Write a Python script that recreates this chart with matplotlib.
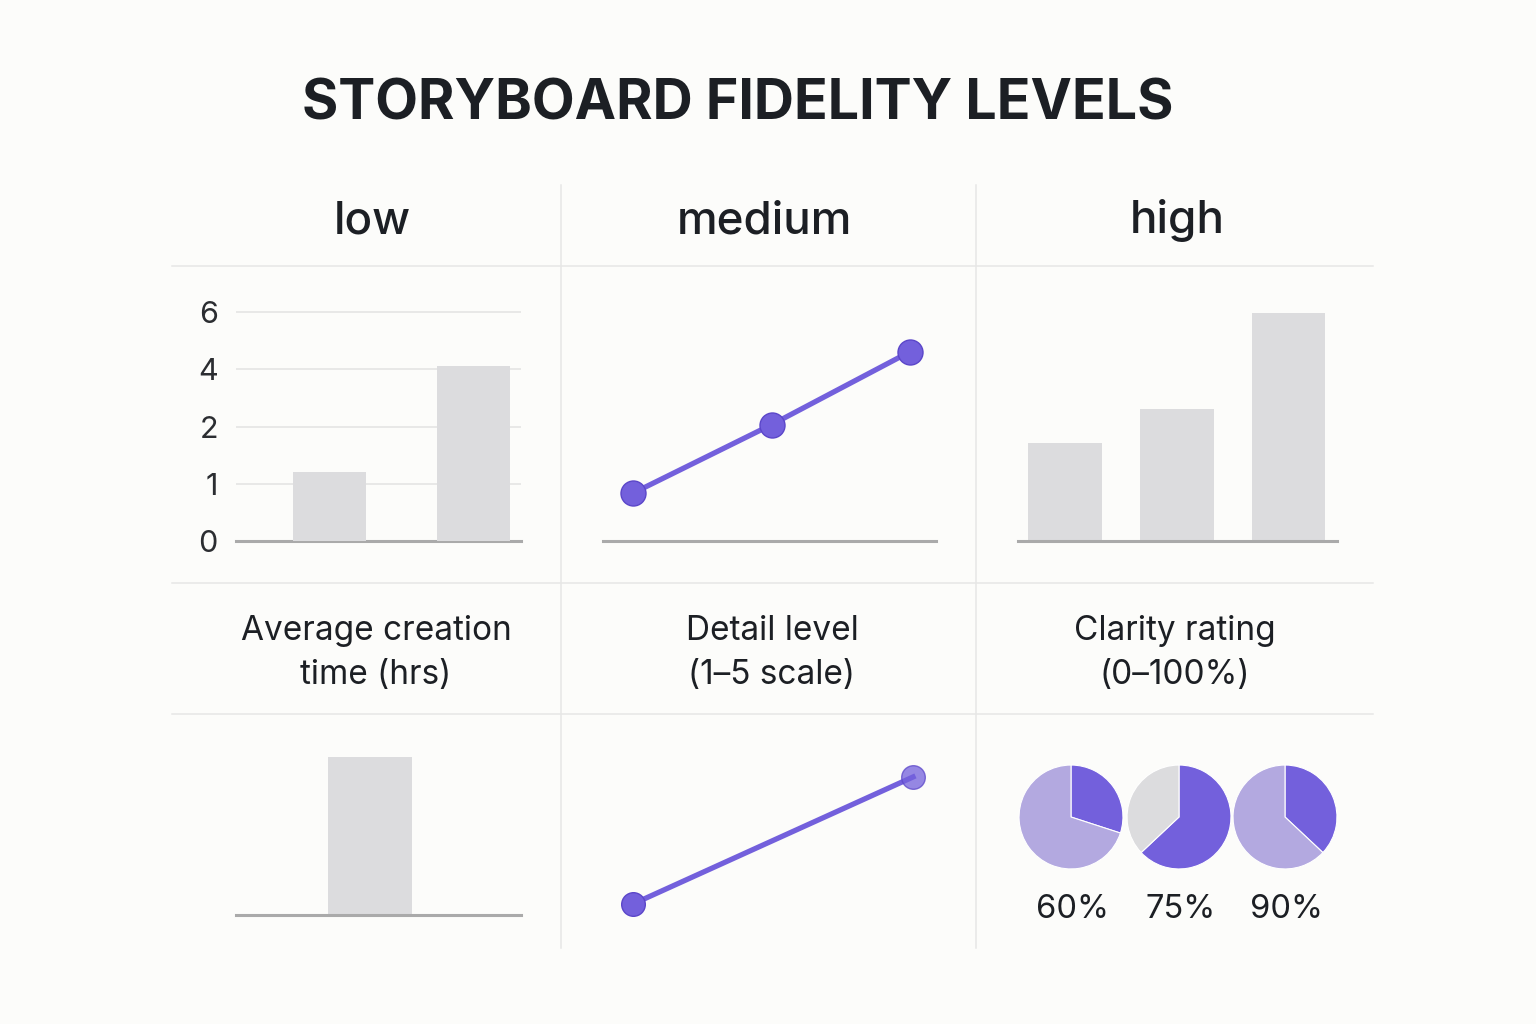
import matplotlib
matplotlib.use('Agg')
import matplotlib.pyplot as plt
import numpy as np

W, H = 1536, 1024
BG = '#fcfcfa'
PURPLE = '#7360dc'
PURPLE_EDGE = '#5b46c9'
LILAC = '#b3a9e0'
GREY_BAR = '#dcdcde'
GRID = '#e6e6e6'
BASE = '#aaaaaa'
INK = '#1c1f24'

plt.rcParams['font.family'] = ['Inter', 'DejaVu Sans']

# data
title = 'STORYBOARD FIDELITY LEVELS'
stages = ['low', 'medium', 'high']
metric_labels = ['Average creation\ntime (hrs)', 'Detail level\n(1\u20135 scale)', 'Clarity rating\n(0\u2013100%)']

creation_hours = [1.2, 4.1]
hour_ticks = [0, 1, 2, 4, 6]
detail_level = [1.05, 2.55, 4.15]
clarity_scores = [43, 58, 100]

single_hours = [5.5]
detail_trend = [1, 5]
pie_share = [30, 63, 37]
pie_rest_colors = [LILAC, GREY_BAR, LILAC]
pie_labels = ['60%', '75%', '90%']


def box(fig, x0, x1, top, bottom):
    # axes placed by pixel edges
    return fig.add_axes([x0 / W, 1 - bottom / H, (x1 - x0) / W, (bottom - top) / H])


def clean(ax, baseline=True):
    ax.set_facecolor('none')
    for s in ['top', 'left', 'right']:
        ax.spines[s].set_visible(False)
    if baseline:
        ax.spines['bottom'].set_color(BASE)
        ax.spines['bottom'].set_linewidth(2.2)
    else:
        ax.spines['bottom'].set_visible(False)
    ax.set_xticks([])
    ax.set_yticks([])


def fwd(v):
    v = np.asarray(v, dtype=float)
    return np.where(v <= 2, v, 2 + (v - 2) / 2)


def inv(p):
    p = np.asarray(p, dtype=float)
    return np.where(p <= 2, p, 2 + (p - 2) * 2)


fig = plt.figure(figsize=(W / 100, H / 100), dpi=100, facecolor=BG)

# frame lines
frame = fig.add_axes([0, 0, 1, 1])
frame.set_axis_off()
frame.set_xlim(0, W)
frame.set_ylim(H, 0)
for x in [561, 976]:
    frame.plot([x, x], [185, 948], color=GRID, lw=1.1)
for y in [266, 583, 714]:
    frame.plot([172, 1373], [y, y], color=GRID, lw=1.1)

frame.text(738, 105, title, ha='center', va='center', fontsize=40, fontweight='bold', color=INK)
for cx, s in zip([372, 764, 1177], stages):
    frame.text(cx, 221, s, ha='center', va='center', fontsize=33, fontweight='medium', color=INK)
for cx, s in zip([376, 772, 1175], metric_labels):
    frame.text(cx, 653, s, ha='center', va='center', fontsize=24, color=INK, linespacing=1.5)

# row 1, low: creation time
ax = box(fig, 236, 521, 300, 541)
clean(ax)
ax.set_yscale('function', functions=(fwd, inv))
ax.bar([0, 1], creation_hours, width=0.507, color=GREY_BAR, zorder=3)
ax.set_xlim(-0.649, 1.33)
ax.set_ylim(0, 6.42)
ax.set_yticks(hour_ticks)
ax.set_yticklabels([str(t) for t in hour_ticks])
ax.yaxis.set_minor_locator(matplotlib.ticker.NullLocator())
ax.tick_params(axis='y', length=0, pad=13, labelsize=22, labelcolor='#2b2d31')
ax.grid(axis='y', color=GRID, lw=1.3)
ax.set_axisbelow(True)

# row 1, medium: detail level
ax = box(fig, 603, 936, 300, 541)
clean(ax)
ax.plot([0, 1, 2], detail_level, color=PURPLE, lw=3.8, marker='o', ms=18,
        mfc=PURPLE, mec=PURPLE_EDGE, mew=1, clip_on=False)
ax.set_xlim(-0.217, 2.188)
ax.set_ylim(0, 5.285)

# row 1, high: clarity
ax = box(fig, 1018, 1337, 300, 541)
clean(ax)
ax.bar([0, 1, 2], clarity_scores, width=0.66, color=GREY_BAR)
ax.set_xlim(-0.42, 2.434)
ax.set_ylim(0, 105.7)

# row 3, low: single bar
ax = box(fig, 236, 521, 740, 915)
clean(ax)
ax.bar([0], single_hours, width=0.6, color=GREY_BAR)
ax.set_xlim(-0.957, 1.079)
ax.set_ylim(0, 6.09)

# row 3, medium: trend line
ax = box(fig, 603, 936, 760, 936)
clean(ax, baseline=False)
ax.plot([0, 2], detail_trend, color=PURPLE, lw=3.8)
ax.plot([0], detail_trend[:1], 'o', ms=17, mfc=PURPLE, mec=PURPLE_EDGE, mew=1)
ax.plot([2], detail_trend[1:], 'o', ms=17, mfc=PURPLE, mec=PURPLE_EDGE, mew=1, alpha=0.75)
ax.set_xlim(-0.214, 2.164)
ax.set_ylim(-0.008, 5.535)

# row 3, high: pies
for cx, share, rest, lab in zip([1071, 1179, 1285], pie_share, pie_rest_colors, pie_labels):
    ax = box(fig, cx - 53, cx + 53, 817 - 53, 817 + 53)
    ax.pie([share, 100 - share], colors=[PURPLE, rest], startangle=90, counterclock=False,
           radius=1, wedgeprops=dict(edgecolor='white', linewidth=0.8))
    ax.set_xlim(-1.02, 1.02)
    ax.set_ylim(-1.02, 1.02)
    ax.set_aspect('equal')
    frame.text(cx + 2, 910, lab, ha='center', va='center', fontsize=23.5, color=INK)

fig.savefig('out.png', dpi=100, facecolor=BG)
